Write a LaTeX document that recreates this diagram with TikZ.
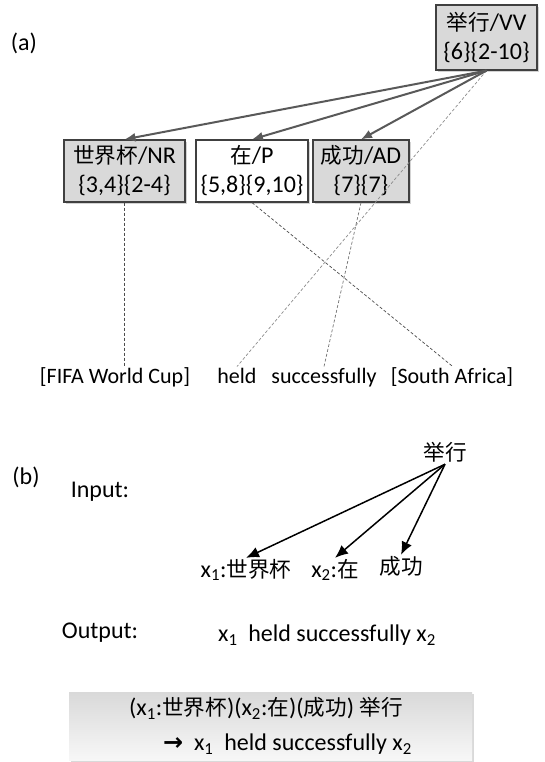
\documentclass[tikz,border=0pt]{standalone}
\usepackage{fontspec}
\setmainfont{Carlito}
\newfontfamily\cjk[Scale=0.9]{Noto Sans CJK SC}
\newfontfamily\sym{DejaVu Sans}
\usetikzlibrary{arrows.meta,positioning,shadows}
\newcommand{\zh}[1]{{\cjk #1}}
\newcommand{\xsub}[1]{x\textsubscript{#1}}

\tikzset{
  txt/.style={font=\fontsize{24}{29}\selectfont, inner sep=1pt},
  tag/.style={txt, draw=black!75, line width=1.2pt, fill=gray!30, align=center,
    minimum height=62pt, inner sep=0pt,
    drop shadow={shadow xshift=2pt, shadow yshift=-2pt, opacity=0.35}},
  dep/.style={draw=black!65, line width=2pt, -{Latex[length=11pt,width=9pt]}},
  link/.style={dash pattern=on 3pt off 2pt, line width=0.7pt},
  tree/.style={line width=1.5pt, -{Latex[length=13pt,width=11pt]}},
  rulebox/.style={txt, font=\fontsize{24}{35}\selectfont, align=left,
    top color=gray!30, bottom color=gray!6, minimum width=403pt, minimum height=68pt,
    drop shadow={shadow xshift=2pt, shadow yshift=-2pt, opacity=0.3}}
}

\begin{document}
\begin{tikzpicture}[x=1pt, y=-1pt]
  \useasboundingbox (0,0) rectangle (544,762);

  % (a) dependency tree with alignment
  \node[txt] (pa) at (24,43) {(a)};
  \node[tag, minimum width=101pt, minimum height=65pt] (jx) at (486.5,37.5) {\zh{举行}/VV\\\{6\}\{2-10\}};
  \node[tag, minimum width=121pt] (sjb) at (124.5,171) {\zh{世界杯}/NR\\\{3,4\}\{2-4\}};
  \node[tag, minimum width=112pt, fill=white] (zai) at (252,171) {\zh{在}/P\\\{5,8\}\{9,10\}};
  \node[tag, minimum width=96pt] (cg) at (361,171) {\zh{成功}/AD\\\{7\}\{7\}};
  \coordinate (hub) at (jx.south);

  \node[txt, font=\fontsize{22}{26}\selectfont, anchor=base] (w1) at (115,383) {[FIFA World Cup]};
  \node[txt, font=\fontsize{22}{26}\selectfont, anchor=base] (w2) at (237,383) {held};
  \node[txt, font=\fontsize{22}{26}\selectfont, anchor=base] (w3) at (324,383) {successfully};
  \node[txt, font=\fontsize{22}{26}\selectfont, anchor=base] (w4) at (452,383) {[South Africa]};

  \draw[link, black!70] (sjb.south) -- (sjb.south |- w1.north);
  \draw[link, black!70] (zai.south) -- (w4.north);
  \draw[link, black!55] (cg.south) -- (w3.north);
  \draw[link, black!45] (hub) -- (w2.north);

  \draw[dep] (hub) -- (sjb.north);
  \draw[dep] (hub) -- (zai.north);
  \draw[dep] (hub) -- (cg.north);

  % (b) rule extraction
  \node[txt] (pb) at (26,477) {(b)};
  \node[txt] (in) at (100,492) {Input:};
  \node[txt, inner sep=2pt] (hd) at (445,452) {\zh{举行}};
  \node[txt] (c1) at (246,570) {\xsub{1}:\zh{世界杯}};
  \node[txt] (c2) at (335,570) {\xsub{2}:\zh{在}};
  \node[txt] (c3) at (401,566) {\zh{成功}};
  \draw[tree] (hd.south) -- (c1.north);
  \draw[tree] (hd.south) -- (c2.north);
  \draw[tree] (hd.south) -- (c3.north);

  \node[txt] (out) at (100,633) {Output:};
  \node[txt] (tgt) at (327,635) {\xsub{1}\ \ held successfully \xsub{2}};

  \node[rulebox] (rule) at (270.5,726)
    {(\xsub{1}:\zh{世界杯})(\xsub{2}:\zh{在})(\zh{成功}) \zh{举行}\\
     \hspace{34pt}{\sym\bfseries →}\ \ \xsub{1}\ \ held successfully \xsub{2}};
\end{tikzpicture}
\end{document}
